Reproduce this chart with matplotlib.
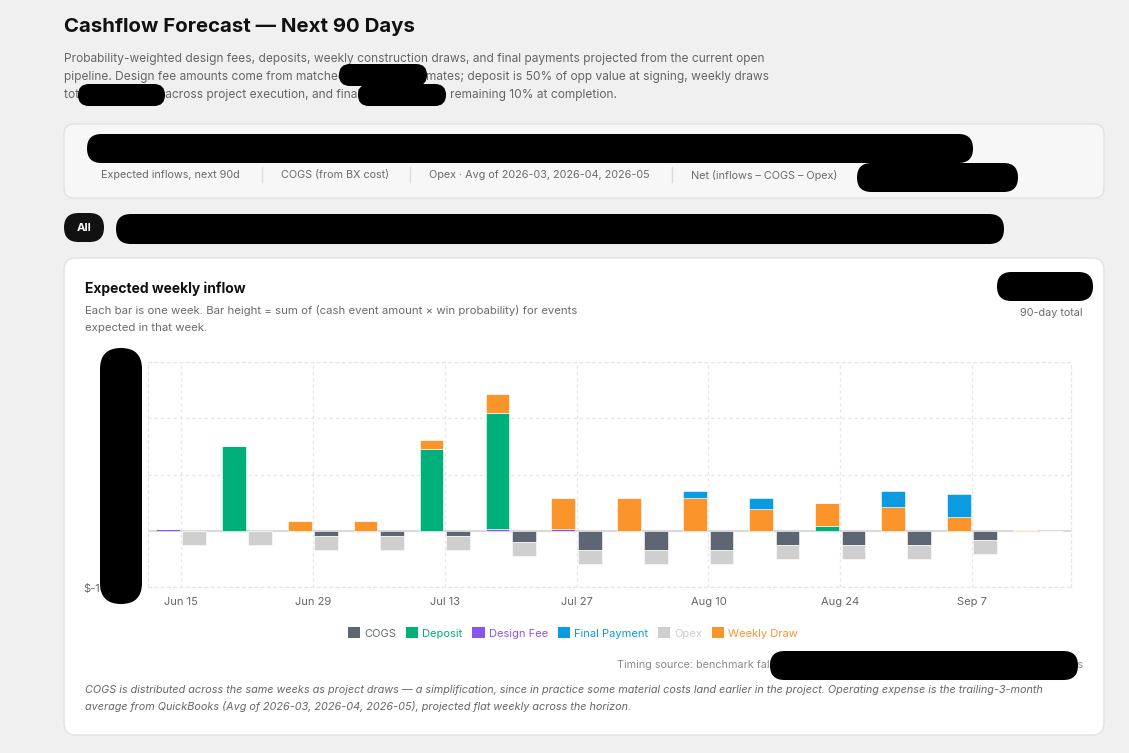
import matplotlib
matplotlib.use("Agg")
import matplotlib.pyplot as plt
import matplotlib.dates as mdates
from matplotlib.patches import FancyBboxPatch, Patch
import datetime as dt

plt.rcParams['font.family'] = ['Inter', 'DejaVu Sans']

# weekly buckets (week start dates)
weeks = ["2026-06-15", "2026-06-22", "2026-06-29", "2026-07-06", "2026-07-13",
         "2026-07-20", "2026-07-27", "2026-08-03", "2026-08-10", "2026-08-17",
         "2026-08-24", "2026-08-31", "2026-09-07", "2026-09-14"]

# inflows (probability weighted, $)
design_fee = [3500, 0, 0, 0, 0, 2500, 3500, 0, 0, 0, 0, 0, 0, 0]
deposit = [0, 151000, 0, 0, 145000, 207000, 0, 0, 0, 0, 9000, 0, 0, 0]
weekly_draw = [0, 0, 17000, 17500, 17000, 34000, 54500, 57500, 57500, 39500, 41000, 41500, 24000, 700]
final_payment = [0, 0, 0, 0, 0, 0, 0, 0, 13000, 18500, 0, 29000, 41000, 0]

# outflows ($, drawn below zero)
cogs = [0, 0, 10000, 10000, 10000, 19500, 34000, 34000, 34000, 25000, 25000, 25500, 16500, 0]
opex = [24500, 24500, 24500, 24500, 24500, 24500, 24500, 24500, 24500, 24500, 24500, 24500, 24500, 0]

tick_dates = ["2026-06-15", "2026-06-29", "2026-07-13", "2026-07-27",
              "2026-08-10", "2026-08-24", "2026-09-07"]
y_ticks = [-100000, 0, 100000, 200000, 300000]
y_tick_labels = ["$-100,000", "$0", "$100K", "$200K", "$300K"]

colors = {
    "COGS": "#5f6673",
    "Deposit": "#00b07a",
    "Design Fee": "#8a55ee",
    "Final Payment": "#0a9be0",
    "Opex": "#cfcfcf",
    "Weekly Draw": "#fb952b",
}
legend_text_colors = {
    "COGS": "#666b75",
    "Deposit": "#00b07a",
    "Design Fee": "#8a55ee",
    "Final Payment": "#0a9be0",
    "Opex": "#cccccc",
    "Weekly Draw": "#fb952b",
}

W, H = 1129, 753
fig = plt.figure(figsize=(W / 100, H / 100), dpi=100)
fig.patch.set_facecolor("#f0f0f0")

# background layer in pixel coords (top-left origin)
bg = fig.add_axes([0, 0, 1, 1], zorder=0)
bg.set_xlim(0, W)
bg.set_ylim(H, 0)
bg.axis("off")
bg.patch.set_alpha(0)

# overlay layer for redaction blobs
fg = fig.add_axes([0, 0, 1, 1], zorder=5)
fg.set_xlim(0, W)
fg.set_ylim(H, 0)
fg.axis("off")
fg.patch.set_alpha(0)


def card(ax, x0, y0, x1, y1, face, edge, r=10):
    ax.add_patch(FancyBboxPatch((x0 + r, y0 + r), (x1 - x0) - 2 * r, (y1 - y0) - 2 * r,
                                boxstyle=f"round,pad={r}", facecolor=face, edgecolor=edge, lw=1))


def blob(x0, y0, x1, y1):
    r = min(x1 - x0, y1 - y0) / 2
    fg.add_patch(FancyBboxPatch((x0 + r, y0 + r), max(x1 - x0 - 2 * r, 0.01), max(y1 - y0 - 2 * r, 0.01),
                                boxstyle=f"round,pad={r}", facecolor="black", edgecolor="none"))


# header
bg.text(64, 27, "Cashflow Forecast — Next 90 Days", fontsize=14.7, fontweight="bold",
        color="#111111", va="center", ha="left")
desc = ["Probability-weighted design fees, deposits, weekly construction draws, and final payments projected from the current open",
        "pipeline. Design fee amounts come from matched BuildXact estimates; deposit is 50% of opp value at signing, weekly draws",
        "total 40% of cost across project execution, and final payment is the remaining 10% at completion."]
for i, line in enumerate(desc):
    bg.text(64, 59 + 18 * i, line, fontsize=8.6, color="#666666", va="center", ha="left")
blob(339, 64, 427, 86)
blob(78, 84, 165, 106)
blob(358, 84, 446, 106)

# stats card
card(bg, 64, 124, 1104, 198, "#f7f7f7", "#e2e2e2")
stat_labels = ["Expected inflows, next 90d", "COGS (from BX cost)",
               "Opex · Avg of 2026-03, 2026-04, 2026-05", "Net (inflows – COGS – Opex)"]
stat_x = [101, 281, 429, 691]
for lx, lab in zip(stat_x, stat_labels):
    bg.text(lx, 175, lab, fontsize=7.8, color="#6b6b6b", va="center", ha="left")
for sx in [262, 410, 672]:
    bg.plot([sx, sx], [167, 182], color="#dddddd", lw=1)
blob(87, 134, 973, 163)
blob(857, 163, 1018, 192)

# filter pills
bg.add_patch(FancyBboxPatch((64 + 14.5, 213 + 14.5), 40 - 29, 0.01, boxstyle="round,pad=14.5",
                            facecolor="#111111", edgecolor="none"))
bg.text(84, 228, "All", fontsize=8.2, fontweight="bold", color="white", va="center", ha="center")
blob(116, 214, 1004, 244)

# chart card
card(bg, 64, 258, 1104, 735, "white", "#e2e2e2", r=12)
bg.text(85, 289, "Expected weekly inflow", fontsize=10, fontweight="bold", color="#111111",
        va="center", ha="left")
bg.text(85, 310, "Each bar is one week. Bar height = sum of (cash event amount × win probability) for events",
        fontsize=8.2, color="#6b6b6b", va="center", ha="left")
bg.text(85, 328, "expected in that week.", fontsize=8.2, color="#6b6b6b", va="center", ha="left")
bg.text(1083, 313, "90-day total", fontsize=7.8, color="#6b6b6b", va="center", ha="right")
blob(997, 272, 1093, 301)

# the bar chart
ax = fig.add_axes([148 / W, 1 - 587 / H, (1071 - 148) / W, (587 - 362) / H], zorder=2)
ax.patch.set_alpha(0)
x = mdates.date2num([dt.date.fromisoformat(d) for d in weeks])
bw = 2.52
off = 1.4

bottom = [0] * len(x)
for name, vals in [("Design Fee", design_fee), ("Deposit", deposit),
                   ("Weekly Draw", weekly_draw), ("Final Payment", final_payment)]:
    ax.bar(x - off, vals, bw, bottom=bottom, color=colors[name], edgecolor="white", lw=0.4, zorder=3)
    bottom = [b + v for b, v in zip(bottom, vals)]

neg = [0] * len(x)
for name, vals in [("COGS", cogs), ("Opex", opex)]:
    ax.bar(x + off, [-v for v in vals], bw, bottom=neg, color=colors[name], edgecolor="white", lw=0.4, zorder=3)
    neg = [b - v for b, v in zip(neg, vals)]

ax.axhline(0, color="#dadada", lw=1.5, zorder=2)
ax.set_xlim(x[0] - 3.5, x[-1] + 3.5)
ax.set_ylim(y_ticks[0], y_ticks[-1])
ax.set_xticks(mdates.date2num([dt.date.fromisoformat(d) for d in tick_dates]))
ax.xaxis.set_major_formatter(mdates.DateFormatter("%b %-d"))
ax.set_yticks(y_ticks)
ax.set_yticklabels(y_tick_labels)
ax.tick_params(length=0, labelsize=8, labelcolor="#666666", pad=7)
ax.grid(True, color="#e6e6e6", lw=0.9, linestyle=(0, (2.5, 2.5)), zorder=0)
for s in ax.spines.values():
    s.set_color("#e6e6e6")
    s.set_linestyle((0, (2.5, 2.5)))
    s.set_linewidth(0.9)

blob(100, 348, 142, 604)

# legend
names = ["COGS", "Deposit", "Design Fee", "Final Payment", "Opex", "Weekly Draw"]
handles = [Patch(facecolor=colors[n], edgecolor="none", label=n) for n in names]
leg = fig.legend(handles=handles, loc="center", bbox_to_anchor=(573 / W, 1 - 633 / H), ncol=6,
                 frameon=False, fontsize=8, handlelength=1.1, handleheight=1.1,
                 handletextpad=0.35, columnspacing=0.9)
for t in leg.get_texts():
    t.set_color(legend_text_colors[t.get_text()])

# footer
bg.text(1083, 665, "Timing source: benchmark fallback (no closed projects with recorded durations) · 14 weeks",
        fontsize=7.8, color="#8a8a8a", va="center", ha="right")
blob(770, 651, 1078, 680)
foot = ["COGS is distributed across the same weeks as project draws — a simplification, since in practice some material costs land earlier in the project. Operating expense is the trailing-3-month",
        "average from QuickBooks (Avg of 2026-03, 2026-04, 2026-05), projected flat weekly across the horizon."]
for i, line in enumerate(foot):
    bg.text(85, 690 + 17 * i, line, fontsize=7.8, style="italic", color="#666666", va="center", ha="left")

fig.savefig("out.png", dpi=100, facecolor=fig.get_facecolor())
